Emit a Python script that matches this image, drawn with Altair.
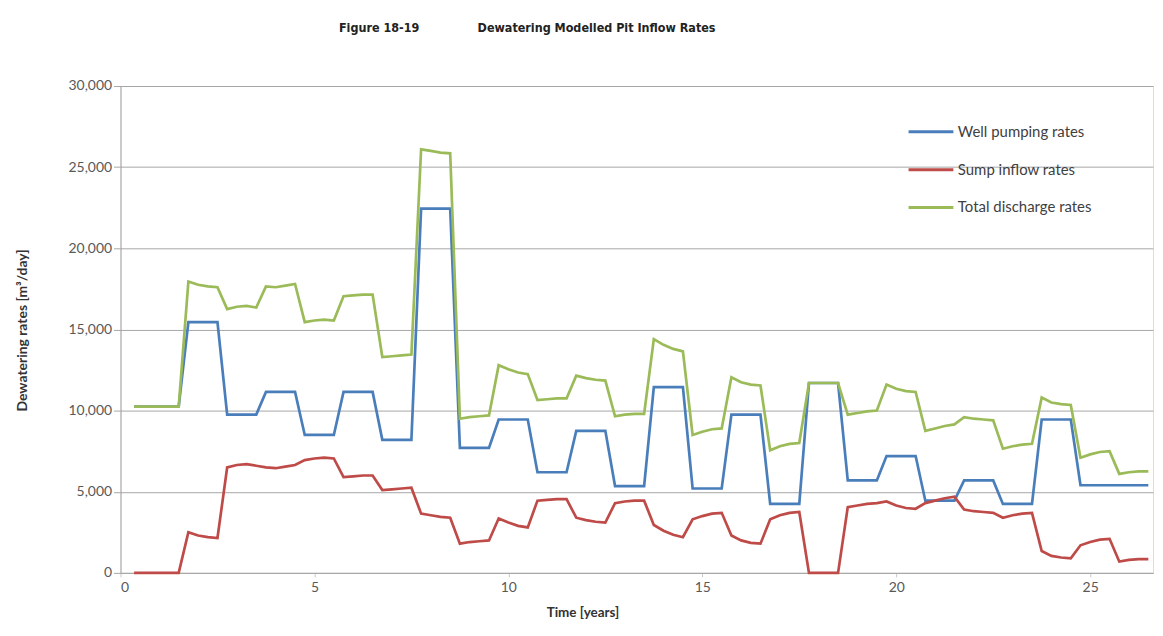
import altair as alt
import pandas as pd

# ---- data ----
series_names = ["Well pumping rates", "Sump inflow rates", "Total discharge rates"]
series_colors = ["#4A7EBB", "#BE4B48", "#9BBB59"]

time_years = [
    0.35, 0.5, 0.75, 1.0, 1.25, 1.5,
    1.75, 2.0, 2.25, 2.5,
    2.75, 3.0, 3.25, 3.5,
    3.75, 4.0, 4.25, 4.5,
    4.75, 5.0, 5.25, 5.5,
    5.75, 6.0, 6.25, 6.5,
    6.75, 7.0, 7.25, 7.5,
    7.75, 8.0, 8.25, 8.5,
    8.75, 9.0, 9.25, 9.5,
    9.75, 10.0, 10.25, 10.5,
    10.75, 11.0, 11.25, 11.5,
    11.75, 12.0, 12.25, 12.5,
    12.75, 13.0, 13.25, 13.5,
    13.75, 14.0, 14.25, 14.5,
    14.75, 15.0, 15.25, 15.5,
    15.75, 16.0, 16.25, 16.5,
    16.75, 17.0, 17.25, 17.5,
    17.75, 18.0, 18.25, 18.5,
    18.75, 19.0, 19.25, 19.5,
    19.75, 20.0, 20.25, 20.5,
    20.75, 21.0, 21.25, 21.5,
    21.75, 22.0, 22.25, 22.5,
    22.75, 23.0, 23.25, 23.5,
    23.75, 24.0, 24.25, 24.5,
    24.75, 25.0, 25.25, 25.5,
    25.75, 26.0, 26.25, 26.5,
]

well_pumping = [
    10250, 10250, 10250, 10250, 10250, 10250,
    15450, 15450, 15450, 15450,
    9750, 9750, 9750, 9750,
    11150, 11150, 11150, 11150,
    8500, 8500, 8500, 8500,
    11150, 11150, 11150, 11150,
    8200, 8200, 8200, 8200,
    22450, 22450, 22450, 22450,
    7700, 7700, 7700, 7700,
    9450, 9450, 9450, 9450,
    6200, 6200, 6200, 6200,
    8750, 8750, 8750, 8750,
    5350, 5350, 5350, 5350,
    11450, 11450, 11450, 11450,
    5200, 5200, 5200, 5200,
    9750, 9750, 9750, 9750,
    4250, 4250, 4250, 4250,
    11700, 11700, 11700, 11700,
    5700, 5700, 5700, 5700,
    7200, 7200, 7200, 7200,
    4450, 4450, 4450, 4450,
    5700, 5700, 5700, 5700,
    4250, 4250, 4250, 4250,
    9450, 9450, 9450, 9450,
    5400, 5400, 5400, 5400,
    5400, 5400, 5400, 5400,
]

sump_inflow = [
    0, 0, 0, 0, 0, 0,
    2500, 2300, 2200, 2150,
    6500, 6650, 6700, 6600,
    6500, 6450, 6550, 6650,
    6950, 7050, 7100, 7050,
    5900, 5950, 6000, 6000,
    5100, 5150, 5200, 5250,
    3650, 3550, 3450, 3400,
    1800, 1900, 1950, 2000,
    3350, 3100, 2900, 2800,
    4450, 4500, 4550, 4550,
    3400, 3250, 3150, 3100,
    4300, 4400, 4450, 4450,
    2950, 2600, 2350, 2200,
    3300, 3500, 3650, 3700,
    2300, 2000, 1850, 1800,
    3300, 3550, 3700, 3750,
    0, 0, 0, 0,
    4050, 4150, 4250, 4300,
    4400, 4150, 4000, 3950,
    4300, 4450, 4600, 4700,
    3900, 3800, 3750, 3700,
    3400, 3550, 3650, 3700,
    1350, 1050, 950, 900,
    1700, 1900, 2050, 2100,
    700, 800, 850, 850,
]

total_discharge = [
    10250, 10250, 10250, 10250, 10250, 10250,
    17950, 17750, 17650, 17600,
    16250, 16400, 16450, 16350,
    17650, 17600, 17700, 17800,
    15450, 15550, 15600, 15550,
    17050, 17100, 17150, 17150,
    13300, 13350, 13400, 13450,
    26100, 26000, 25900, 25850,
    9500, 9600, 9650, 9700,
    12800, 12550, 12350, 12250,
    10650, 10700, 10750, 10750,
    12150, 12000, 11900, 11850,
    9650, 9750, 9800, 9800,
    14400, 14050, 13800, 13650,
    8500, 8700, 8850, 8900,
    12050, 11750, 11600, 11550,
    7550, 7800, 7950, 8000,
    11700, 11700, 11700, 11700,
    9750, 9850, 9950, 10000,
    11600, 11350, 11200, 11150,
    8750, 8900, 9050, 9150,
    9600, 9500, 9450, 9400,
    7650, 7800, 7900, 7950,
    10800, 10500, 10400, 10350,
    7100, 7300, 7450, 7500,
    6100, 6200, 6250, 6250,
]

x_ticks = [0, 5, 10, 15, 20, 25]
y_ticks = [0, 5000, 10000, 15000, 20000, 25000, 30000]

# ---- long table ----
rows = []
for name, vals in zip(series_names, [well_pumping, sump_inflow, total_discharge]):
    for t, v in zip(time_years, vals):
        rows.append({"t": t, "rate": v, "series": name})
df = pd.DataFrame(rows)

FONT = "Lato"
GRID = "#a6a6a6"

chart = (
    alt.Chart(df)
    .mark_line(strokeWidth=2.7, strokeJoin="miter")
    .encode(
        x=alt.X(
            "t:Q",
            scale=alt.Scale(domain=[0, 26.62], nice=False, zero=False),
            axis=alt.Axis(
                values=x_ticks,
                grid=False,
                title="Time [years]",
                titleFont=FONT,
                titleFontSize=13.5,
                titleFontWeight="bold",
                titleColor="#333333",
                titleX=464,
                titleY=33,
                titleBaseline="top",
                labelFont=FONT,
                labelFontSize=14,
                labelColor="#595959",
                labelPadding=4,
                tickColor="#c8c8c8",
                tickSize=4,
                domainColor=GRID,
            ),
        ),
        y=alt.Y(
            "rate:Q",
            scale=alt.Scale(domain=[0, 30000], nice=False),
            axis=alt.Axis(
                values=y_ticks,
                format=",.0f",
                title="Dewatering rates [m³/day]",
                titleFont=FONT,
                titleFontSize=14,
                titleFontWeight="bold",
                titleColor="#333333",
                titleAngle=270,
                titleX=-98,
                titleY=245,
                titleAlign="center",
                titleBaseline="middle",
                labelFont=FONT,
                labelFontSize=14,
                labelColor="#595959",
                labelPadding=2,
                gridColor=GRID,
                gridWidth=1,
                tickColor=GRID,
                tickSize=7,
                domainColor=GRID,
            ),
        ),
        color=alt.Color(
            "series:N",
            scale=alt.Scale(domain=series_names, range=series_colors),
            sort=series_names,
            legend=alt.Legend(
                title=None,
                orient="none",
                legendX=790,
                legendY=22,
                symbolType="stroke",
                symbolSize=2025,
                symbolStrokeWidth=3,
                labelFont=FONT,
                labelFontSize=15,
                labelColor="#404040",
                labelOffset=3,
                rowPadding=6,
            ),
        ),
        order=alt.Order("t:Q"),
    )
    .properties(
        width=1037,
        height=489,
        padding={"left": 113, "top": 77, "right": 2, "bottom": 52},
        autosize=alt.AutoSizeParams(type="none"),
        title=alt.TitleParams(
            text="Figure 18-19\u00a0\u00a0\u00a0\u00a0\u00a0\u00a0\u00a0\u00a0\u00a0\u00a0\u00a0\u00a0\u00a0\u00a0\u00a0Dewatering Modelled Pit Inflow Rates",
            font="DejaVu Sans Condensed, DejaVu Sans, sans-serif",
            fontSize=12.5,
            fontWeight="bold",
            color="#222222",
            anchor="middle",
            dx=-110,
            offset=45,
        ),
    )
    .configure_view(stroke=None)
    .configure(background="white")
)

chart.save("out.html", embed_options={"renderer": "svg", "actions": False})
